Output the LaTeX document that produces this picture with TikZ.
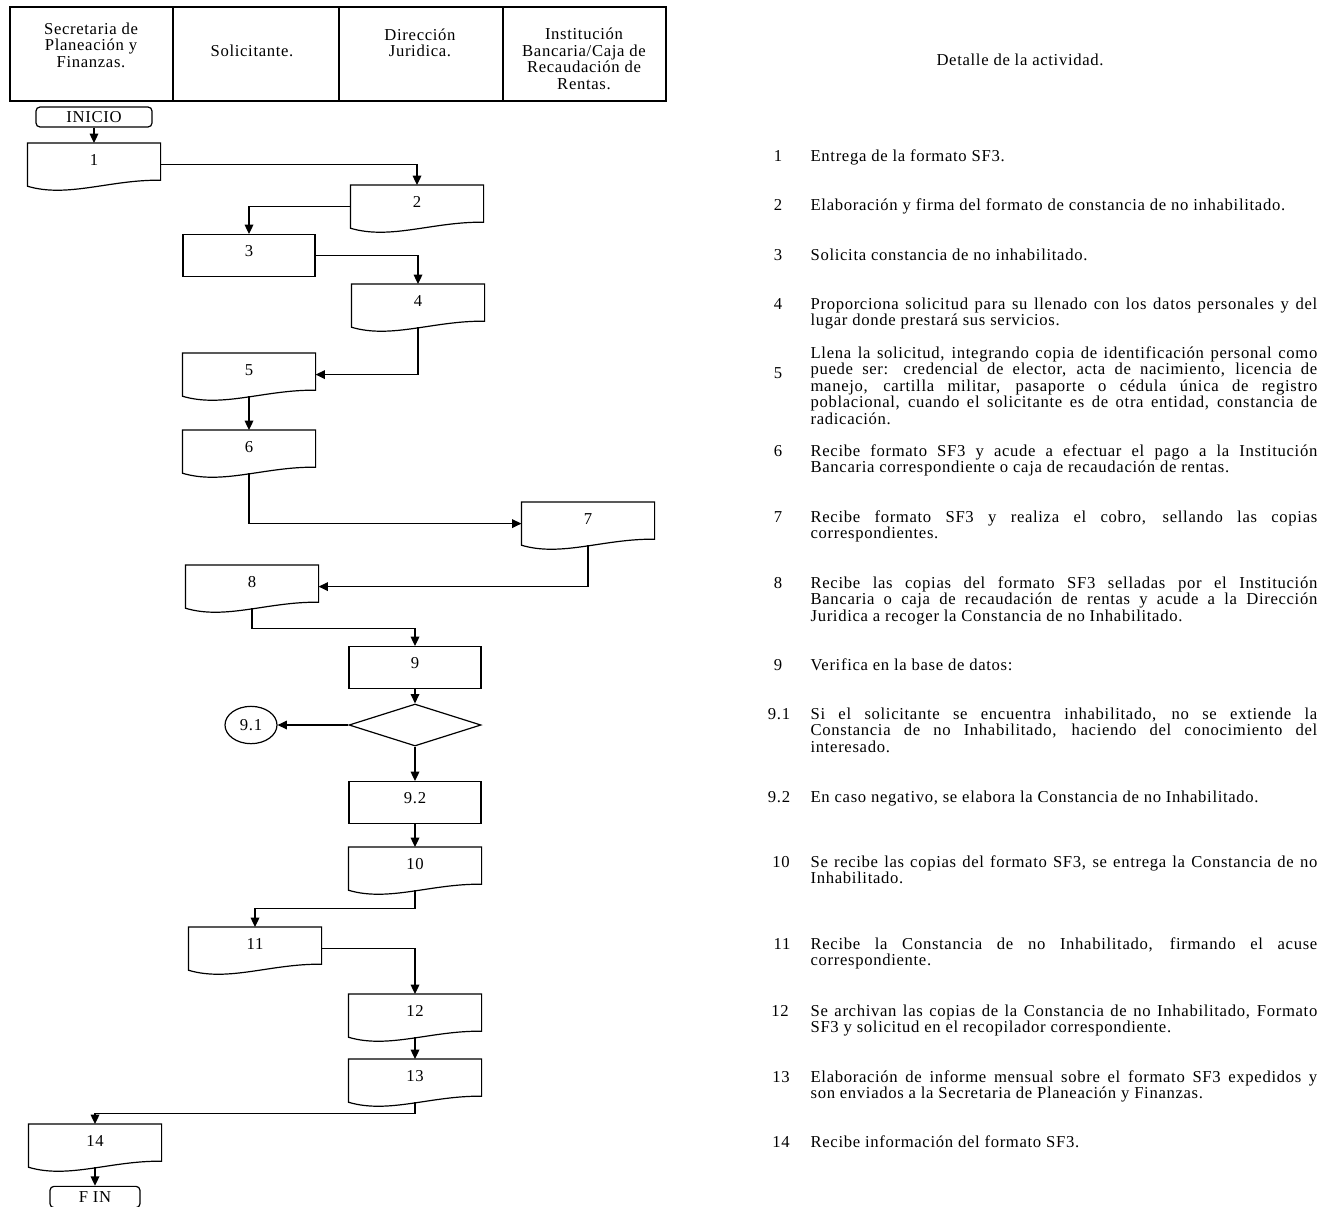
\documentclass[tikz,border=0pt]{standalone}
\usepackage{fontspec}
\setmainfont[LetterSpace=4]{Liberation Serif}
\usetikzlibrary{shapes.geometric,arrows.meta}
\tolerance=10000
\hbadness=10000

\tikzset{
  every node/.style={font=\fontsize{12.5}{12.4}\selectfont},
  caja/.style={rectangle,anchor=north,minimum width=99pt,inner sep=0pt,
    text height=16.5pt,text depth=15pt},
  proceso/.style={caja,draw},
  documento/.style={caja},
  terminal/.style={rectangle,draw,rounded corners=3pt,inner sep=0pt},
  flujo/.style={-{Triangle[length=7pt,width=6.5pt]}},
  detalle/.style={anchor=base west,inner sep=0pt,text width=380pt,align=justify},
  numero/.style={anchor=base,inner sep=0pt}
}

\begin{document}
\begin{tikzpicture}[x=0.75pt,y=-0.75pt,line width=0.9pt]
\useasboundingbox (0,0) rectangle (1333,1206);

% encabezado
\draw (10,7) rectangle (666,101);
\foreach \x in {173,339,503}
  \draw (\x,7) -- (\x,101);
\node[align=center] (h1) at (91,45) {Secretaria de\\Planeación y\\Finanzas.};
\node (h2) at (252,51) {Solicitante.};
\node[align=center] (h3) at (420,43) {Dirección\\Juridica.};
\node[align=center] (h4) at (584,59) {Institución\\Bancaria/Caja de\\Recaudación de\\Rentas.};
\node (det) at (1020,60) {Detalle de la actividad.};

% diagrama
\node[terminal,minimum width=87pt,minimum height=15pt] (ini) at (94,117) {INICIO};
\node[documento] (b1) at (94,143) {1};
\node[documento] (b2) at (417,185) {2};
\node[proceso] (b3) at (249,234) {3};
\node[documento] (b4) at (418,284) {4};
\node[documento] (b5) at (249,353) {5};
\node[documento] (b6) at (249,430) {6};
\node[documento] (b7) at (588,502) {7};
\node[documento] (b8) at (252,565) {8};
\node[proceso] (b9) at (415,646) {9};
\node[diamond,draw,minimum width=99pt,minimum height=31.5pt,inner sep=0pt] (rombo) at (415,725) {};
\node[ellipse,draw,minimum width=39pt,minimum height=28pt,inner sep=0pt] (c91) at (251,725) {9.1};
\node[proceso] (b92) at (415,781) {9.2};
\node[documento] (b10) at (415,847) {10};
\node[documento] (b11) at (255,927) {11};
\node[documento] (b12) at (415,994) {12};
\node[documento] (b13) at (415,1059) {13};
\node[documento] (b14) at (95,1124) {14};
\node[terminal,minimum width=67.5pt,minimum height=16pt] (fin) at (95,1197) {F IN};

% contorno de documento
\foreach \n in {b1,b2,b4,b5,b6,b7,b8,b10,b11,b12,b13,b14}
  \draw (\n.north west) -- (\n.north east) -- ([yshift=4.5pt]\n.south east)
    .. controls ([xshift=-38pt,yshift=5pt]\n.south east) and ([xshift=30pt,yshift=-9pt]\n.south west) .. (\n.south west) -- cycle;

% flechas
\draw[flujo] (ini) -- (b1);
\draw[flujo] (b1.east) -| (b2.north);
\draw[flujo] (b2.west) -| (b3.north);
\draw[flujo] (b3.east) -| (b4.north);
\draw[flujo] (b4.south) |- (b5.east);
\draw[flujo] (b5) -- (b6);
\draw[flujo] (b6.south) |- (b7.west);
\draw[flujo] (b7.south) |- (b8.east);
\draw[flujo] (b8.south) -- ++(0,20) -| (b9.north);
\draw[flujo] (b9) -- (rombo);
\draw[flujo] (rombo) -- (c91);
\draw[flujo] (rombo) -- (b92);
\draw[flujo] (b92) -- (b10);
\draw[flujo] (b10.south) -- ++(0,18) -| (b11.north);
\draw[flujo] (b11.east) -| (b12.north);
\draw[flujo] (b12) -- (b13);
\draw[flujo] (b13.south) -- ++(0,11) -| (b14.north);
\draw[flujo] (b14) -- (fin);

% detalle de la actividad
\node[numero] (n1) at (778,161) {1};
\node[detalle] (t1) at (810,161) {Entrega de la formato SF3.};
\node[numero] (n2) at (778,210) {2};
\node[detalle] (t2) at (810,210) {Elaboración y firma del formato de constancia de no inhabilitado.};
\node[numero] (n3) at (778,260) {3};
\node[detalle] (t3) at (810,260) {Solicita constancia de no inhabilitado.};
\node[numero] (n4) at (778,309) {4};
\node[detalle] (t4) at (810,309) {Proporciona solicitud para su llenado con los datos personales y del\linebreak lugar donde prestará sus servicios.};
\node[numero] (n5) at (778,378) {5};
\node[detalle] (t5) at (810,358) {Llena la solicitud, integrando copia de identificación personal como\linebreak puede ser: credencial de elector, acta de nacimiento, licencia de\linebreak manejo, cartilla militar, pasaporte o cédula única de registro\linebreak poblacional, cuando el solicitante es de otra entidad, constancia de\linebreak radicación.};
\node[numero] (n6) at (778,456) {6};
\node[detalle] (t6) at (810,456) {Recibe formato SF3 y acude a efectuar el pago a la Institución\linebreak Bancaria correspondiente o caja de recaudación de rentas.};
\node[numero] (n7) at (778,522) {7};
\node[detalle] (t7) at (810,522) {Recibe formato SF3 y realiza el cobro, sellando las copias\linebreak correspondientes.};
\node[numero] (n8) at (778,588) {8};
\node[detalle] (t8) at (810,588) {Recibe las copias del formato SF3 selladas por el Institución\linebreak Bancaria o caja de recaudación de rentas y acude a la Dirección\linebreak Juridica a recoger la Constancia de no Inhabilitado.};
\node[numero] (n9) at (778,670) {9};
\node[detalle] (t9) at (810,670) {Verifica en la base de datos:};
\node[numero] (n91) at (779,719) {9.1};
\node[detalle] (t91) at (810,719) {Si el solicitante se encuentra inhabilitado, no se extiende la\linebreak Constancia de no Inhabilitado, haciendo del conocimiento del\linebreak interesado.};
\node[numero] (n92) at (779,802) {9.2};
\node[detalle] (t92) at (810,802) {En caso negativo, se elabora la Constancia de no Inhabilitado.};
\node[numero] (n10) at (781,867) {10};
\node[detalle] (t10) at (810,867) {Se recibe las copias del formato SF3, se entrega la Constancia de no\linebreak Inhabilitado.};
\node[numero] (n11) at (782,949) {11};
\node[detalle] (t11) at (810,949) {Recibe la Constancia de no Inhabilitado, firmando el acuse\linebreak correspondiente.};
\node[numero] (n12) at (780,1016) {12};
\node[detalle] (t12) at (810,1016) {Se archivan las copias de la Constancia de no Inhabilitado, Formato\linebreak SF3 y solicitud en el recopilador correspondiente.};
\node[numero] (n13) at (781,1082) {13};
\node[detalle] (t13) at (810,1082) {Elaboración de informe mensual sobre el formato SF3 expedidos y\linebreak son enviados a la Secretaria de Planeación y Finanzas.};
\node[numero] (n14) at (781,1147) {14};
\node[detalle] (t14) at (810,1147) {Recibe información del formato SF3.};
\end{tikzpicture}
\end{document}
